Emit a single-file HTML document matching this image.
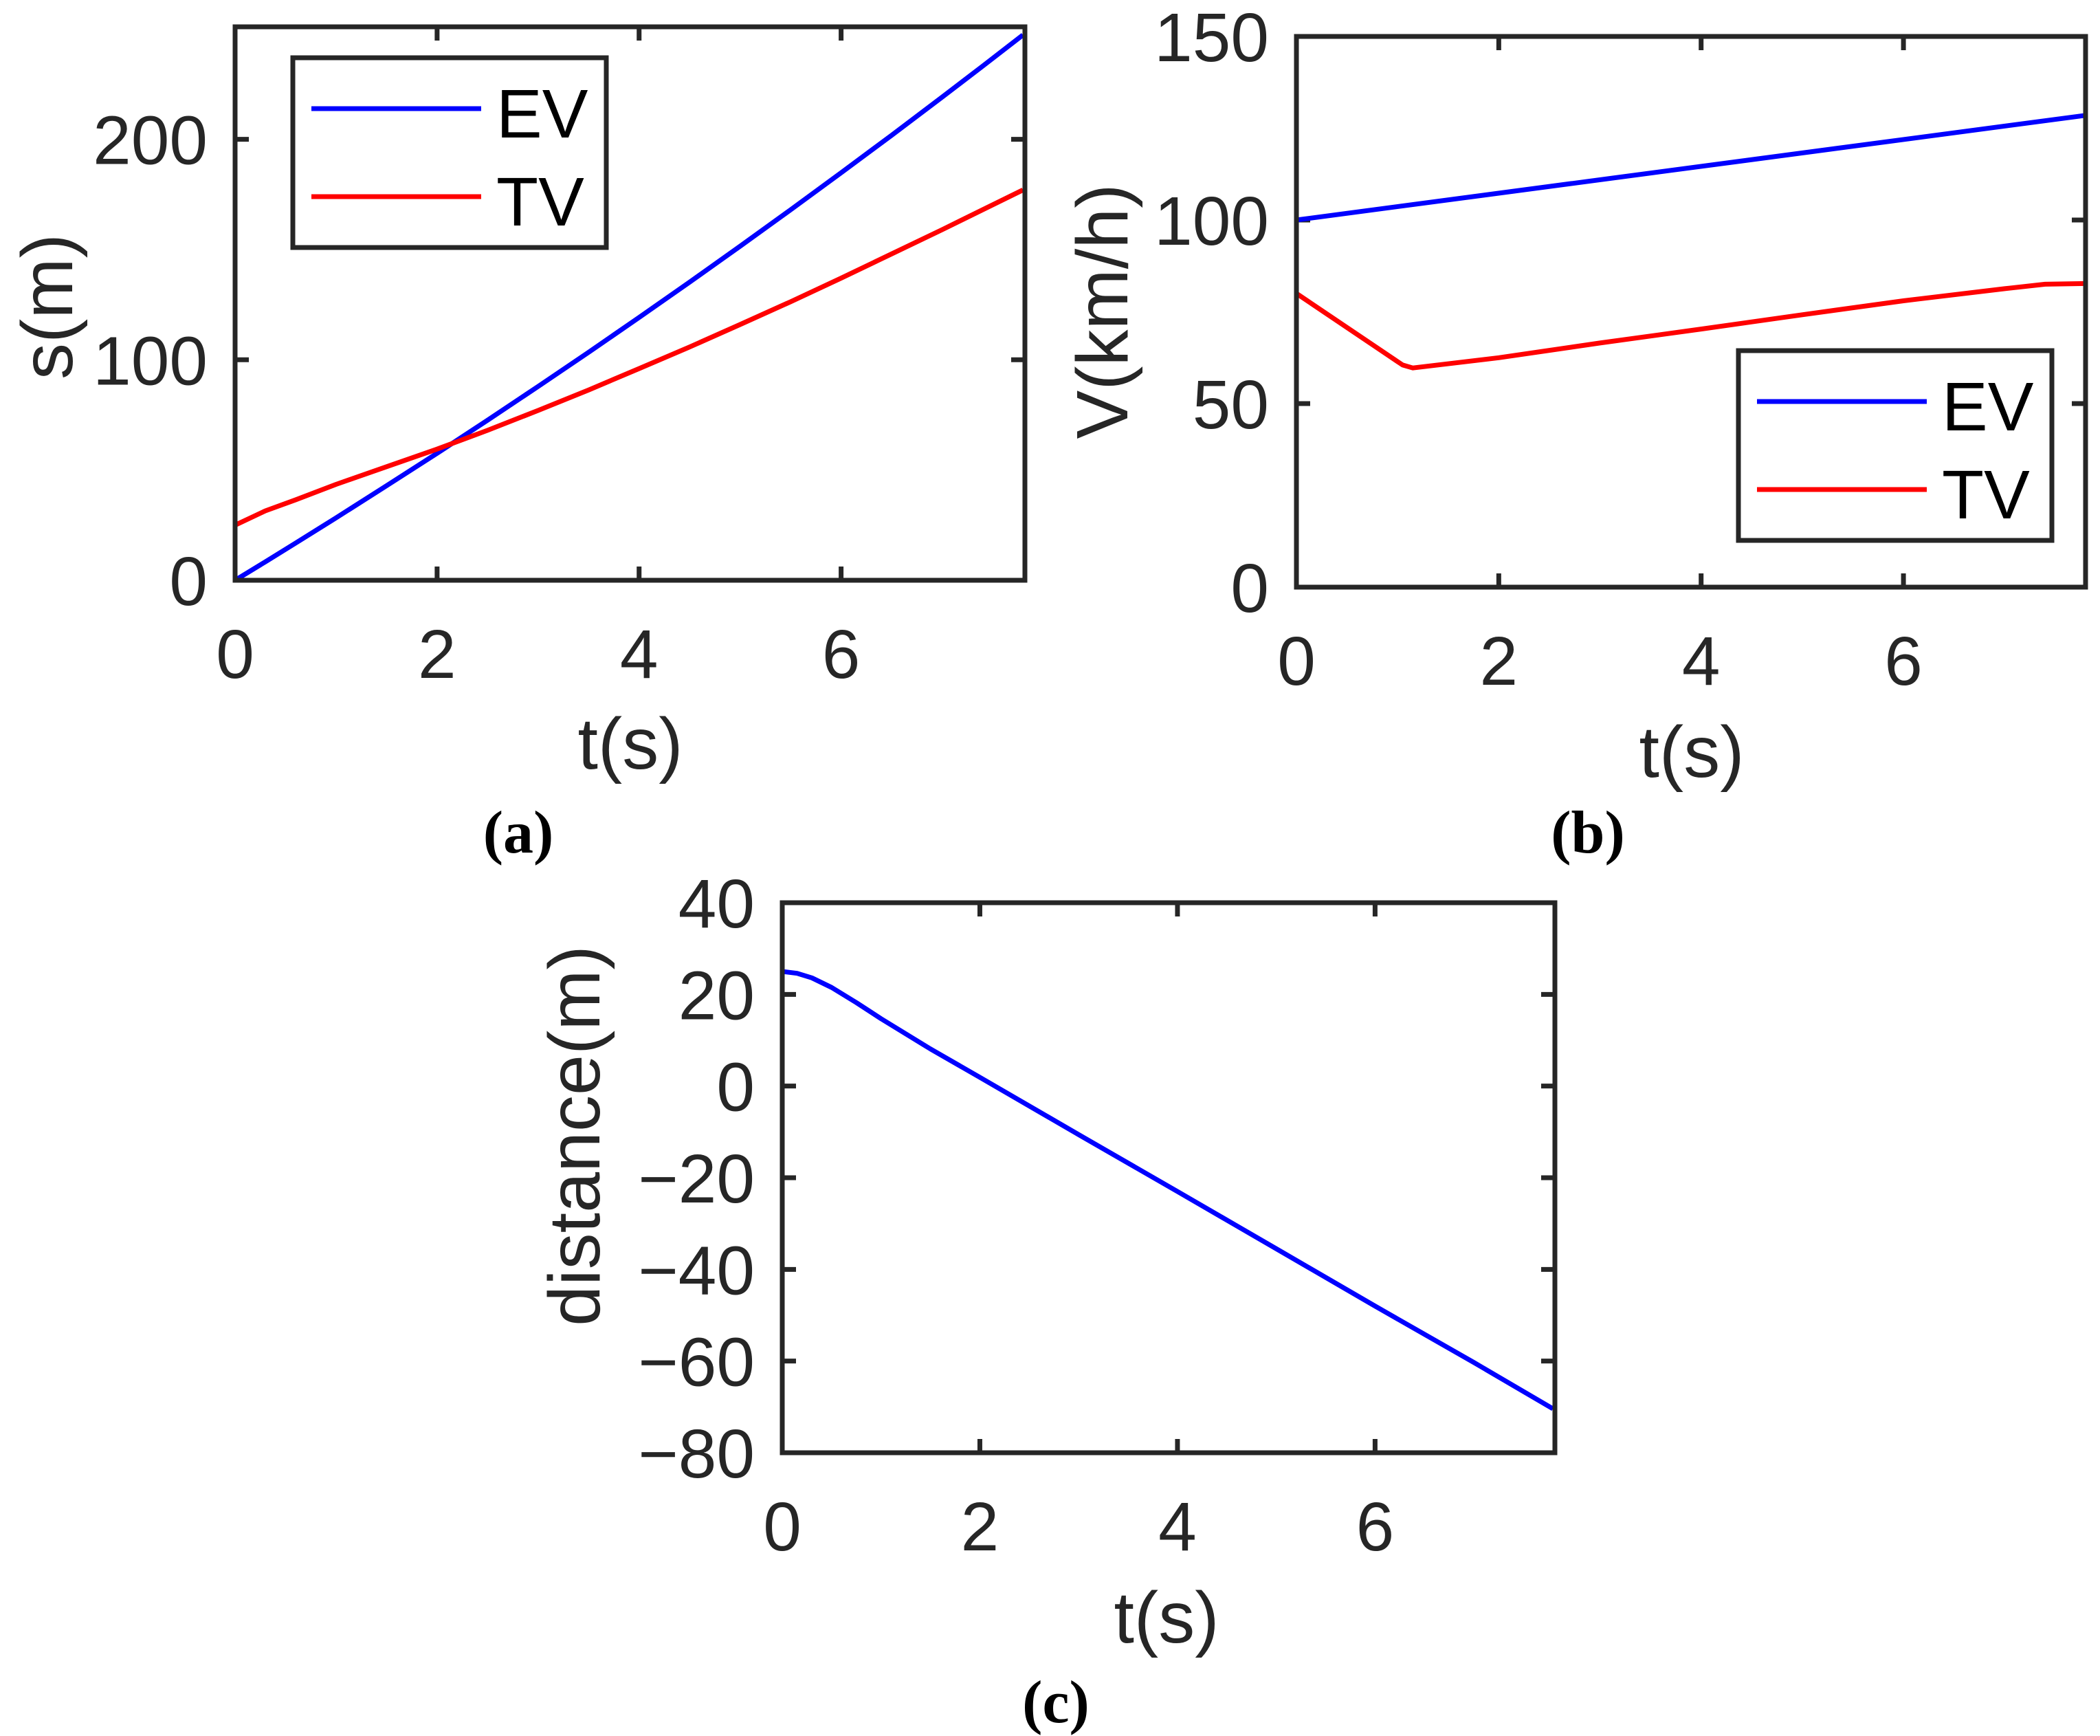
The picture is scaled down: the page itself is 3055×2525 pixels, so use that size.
<!DOCTYPE html>
<html><head><meta charset="utf-8"><style>
html,body{margin:0;padding:0;background:#fff;}
svg{display:block;}
text{font-family:"Liberation Sans",sans-serif;fill:#262626;}
.cap{font-family:"Liberation Serif",serif;font-weight:bold;fill:#000;}
</style></head><body>
<svg id="fig" width="3055" height="2525" viewBox="0 0 3055 2525" xmlns="http://www.w3.org/2000/svg"></svg>
<script>
// ---- data ----
const aTime = [0, 0.3, 0.6, 1, 1.5, 2, 2.5, 3, 3.5, 4, 4.5, 5, 5.5, 6, 6.5, 7, 7.4, 7.8];
const aEV = [0, 8.4, 16.9, 28.3, 42.9, 57.6, 72.6, 87.9, 103.4, 119.2, 135.2, 151.5, 168, 184.8, 201.8, 219.1, 233.1, 247.3];
const aTV = [25, 31.5, 36.5, 43.5, 51.5, 59.5, 68, 77, 86.3, 96, 105.8, 116, 126.3, 137, 148, 159, 168, 177];
const bTime = [0, 1.05, 1.15, 2, 3, 4, 5, 6, 7, 7.4, 7.8];
const bEVt = [0, 7.8];
const bEV = [100, 128.5];
const bTV = [80, 60.5, 59.7, 62.5, 66.5, 70.3, 74.2, 78, 81.3, 82.5, 82.7];
const cTime = [0, 0.15, 0.3, 0.5, 0.75, 1, 1.5, 2, 3, 4, 5, 6, 7, 7.8];
const cDist = [25, 24.6, 23.6, 21.5, 18.2, 14.7, 8.1, 1.9, -10.6, -23, -35.5, -48, -60.3, -70.4];
const xTicks = [0, 2, 4, 6];
const aYTicks = [0, 100, 200];
const bYTicks = [0, 50, 100, 150];
const cYTicks = [-80, -60, -40, -20, 0, 20, 40];
const legendLabels = ["EV", "TV"];

const NS = "http://www.w3.org/2000/svg";
const svg = document.getElementById("fig");
function el(tag, attrs, parent) {
  const e = document.createElementNS(NS, tag);
  for (const k in attrs) e.setAttribute(k, attrs[k]);
  (parent || svg).appendChild(e);
  return e;
}
const AX = "#262626";

function axes(name, box, xmax, ymin, ymax, yTicks, xlabel, ylabel, ylabelPos, xlabelPos) {
  const g = el("g", {});
  
  
  const sx = v => box.x0 + (v / xmax) * (box.x1 - box.x0);
  const sy = v => box.y1 - (v - ymin) / (ymax - ymin) * (box.y1 - box.y0);
  xTicks.forEach(t => {
    const x = sx(t);
    el("line", {x1: x, x2: x, y1: box.y1, y2: box.y1 - 20, stroke: AX, "stroke-width": 7}, g);
    el("line", {x1: x, x2: x, y1: box.y0, y2: box.y0 + 20, stroke: AX, "stroke-width": 7}, g);
    const tx = el("text", {x: x, y: box.y1 + 142, "font-size": 100, "text-anchor": "middle"}, g);
    
    
    tx.textContent = t;
  });
  yTicks.forEach(t => {
    const y = sy(t);
    el("line", {x1: box.x0, x2: box.x0 + 20, y1: y, y2: y, stroke: AX, "stroke-width": 7}, g);
    el("line", {x1: box.x1, x2: box.x1 - 20, y1: y, y2: y, stroke: AX, "stroke-width": 7}, g);
    const ty = el("text", {x: box.x0 - 40, y: y + 36, "font-size": 100, "text-anchor": "end"}, g);
    
    
    ty.textContent = t < 0 ? "\u2212" + (-t) : t;
  });
  const xl = el("text", {x: xlabelPos[0], y: xlabelPos[1], "font-size": 106, "text-anchor": "middle"}, g);
  
  
  xl.textContent = xlabel;
  const yl = el("text", {x: 0, y: 0, "font-size": 106, "text-anchor": "middle", transform: `translate(${ylabelPos[0]},${ylabelPos[1]}) rotate(-90)`}, g);
  
  
  yl.textContent = ylabel;
  return {g, sx, sy, box};
}
function frame(ax) {
  const b = ax.box;
  const r = el("rect", {x: b.x0, y: b.y0, width: b.x1 - b.x0, height: b.y1 - b.y0, fill: "none", stroke: AX, "stroke-width": 7}, ax.g);
  
  
}
function line(ax, xs, ys, color, name) {
  const d = xs.map((t, i) => (i ? "L" : "M") + ax.sx(t).toFixed(1) + "," + ax.sy(ys[i]).toFixed(1)).join("");
  const p = el("path", {d: d, fill: "none", stroke: color, "stroke-width": 7, "stroke-linejoin": "round"}, ax.g);
  
  
}
function legend(ax, bx, colors) {
  const lg = el("g", {}, ax.g);
  
  
  el("rect", {x: bx.x, y: bx.y, width: bx.w, height: bx.h, fill: "#fff", stroke: AX, "stroke-width": 7}, lg);
  legendLabels.forEach((lab, i) => {
    const y = bx.y + 74 + i * 128;
    const ln = el("line", {x1: bx.x + 27, x2: bx.x + 274, y1: y, y2: y, stroke: colors[i], "stroke-width": 7}, lg);
    
    
    const t = el("text", {x: bx.x + 296, y: y + 42, "font-size": 100, style: "fill:#000"}, lg);
    
    
    t.textContent = lab;
  });
}
function caption(txt, x, y) {
  const t = el("text", {x: x, y: y, "font-size": 88, "text-anchor": "middle", class: "cap"});
  
  
  t.textContent = txt;
}

// (a)
const A = axes("panel-a-position", {x0: 342, x1: 1491, y0: 39, y1: 844}, 7.82, 0, 251, aYTicks, "t(s)", "s(m)", [105, 446], [917, 1118]);
line(A, aTime, aEV, "#0000ff", "ev-position-line");
line(A, aTime, aTV, "#ff0000", "tv-position-line");
frame(A);
legend(A, {x: 426, y: 84, w: 456, h: 276}, ["#0000ff", "#ff0000"]);
caption("(a)", 754, 1240);

// (b)
const B = axes("panel-b-velocity", {x0: 1886, x1: 3034, y0: 53, y1: 854}, 7.8, 0, 150, bYTicks, "t(s)", "V(km/h)", [1640, 453], [2461, 1130]);
line(B, bEVt, bEV, "#0000ff", "ev-velocity-line");
line(B, bTime, bTV, "#ff0000", "tv-velocity-line");
frame(B);
legend(B, {x: 2529, y: 510, w: 456, h: 276}, ["#0000ff", "#ff0000"]);
caption("(b)", 2310, 1240);

// (c)
const C = axes("panel-c-distance", {x0: 1138, x1: 2262, y0: 1313, y1: 2113}, 7.82, -80, 40, cYTicks, "t(s)", "distance(m)", [872, 1652], [1697, 2389]);
line(C, cTime, cDist, "#0000ff", "distance-line");
frame(C);
caption("(c)", 1536, 2505);
</script>
</body></html>
